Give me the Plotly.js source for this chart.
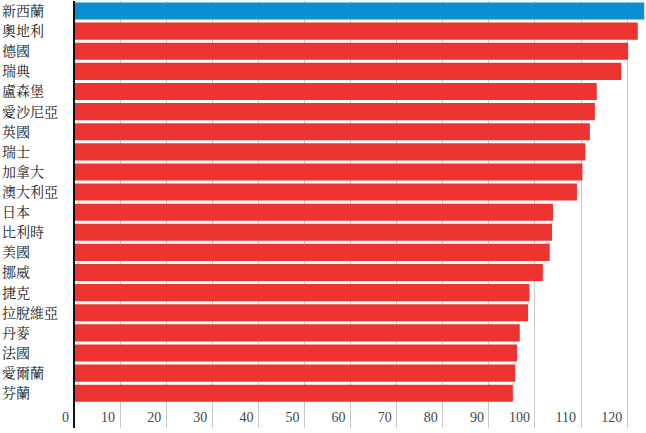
<!DOCTYPE html>
<html>
<head>
<meta charset="utf-8">
<script src="https://cdn.plot.ly/plotly-3.0.1.min.js"></script>
<style>html,body{margin:0;padding:0;background:#fff;}#chart{width:646px;height:433px;}</style>
</head>
<body>
<div id="chart"></div>
<script>
var countries = ["新西蘭","奧地利","德國","瑞典","盧森堡","愛沙尼亞","英國","瑞士","加拿大","澳大利亞","日本","比利時","美國","挪威","捷克","拉脫維亞","丹麥","法國","愛爾蘭","芬蘭"];
var values = [123.7,122.3,120.2,118.7,113.4,113.0,111.9,110.9,110.3,109.1,103.9,103.7,103.2,101.7,98.8,98.5,96.7,96.1,95.7,95.2];
var barColors = ["#0b8fd1","#ee3431","#ee3431","#ee3431","#ee3431","#ee3431","#ee3431","#ee3431","#ee3431","#ee3431","#ee3431","#ee3431","#ee3431","#ee3431","#ee3431","#ee3431","#ee3431","#ee3431","#ee3431","#ee3431"];
var xTicks = [0,10,20,30,40,50,60,70,80,90,100,110,120];

var trace = {
  type: "bar",
  orientation: "h",
  x: values,
  y: countries,
  marker: {color: barColors, line: {width: 0}},
  hoverinfo: "x+y"
};

var layout = {
  width: 646, height: 433,
  margin: {l: 0, r: 0, t: 1, b: 5, pad: 0},
  paper_bgcolor: "#fff", plot_bgcolor: "#fff",
  showlegend: false,
  bargap: 0.15,
  xaxis: {
    domain: [74/646, 1],
    range: [0, 124.08],
    tickvals: xTicks,
    ticktext: xTicks.map(String),
    showgrid: true, gridcolor: "#c8c8c8", gridwidth: 1,
    zeroline: true, zerolinecolor: "#111", zerolinewidth: 2.5,
    zerolinelayer: "above traces",
    ticks: "",
    ticklabelposition: "inside left",
    ticklabeloverflow: "allow",
    ticklabelshift: -5,
    ticklabelstandoff: -3,
    tickfont: {family: "Liberation Serif, Times New Roman, serif", size: 14, color: "#3f4a4a"},
    showline: false,
    fixedrange: true
  },
  yaxis: {
    type: "category",
    categoryarray: countries,
    range: [20.73, -0.5],
    anchor: "free", position: 0,
    showgrid: false, zeroline: false, showline: false, ticks: "",
    ticklabelposition: "inside",
    ticklabeloverflow: "allow",
    ticklabelstandoff: -2,
    tickfont: {family: "Noto Serif CJK TC, Noto Sans CJK TC, serif", size: 14, color: "#222"},
    fixedrange: true
  }
};

Plotly.newPlot("chart", [trace], layout, {displayModeBar: false, staticPlot: true});
</script>
</body>
</html>
